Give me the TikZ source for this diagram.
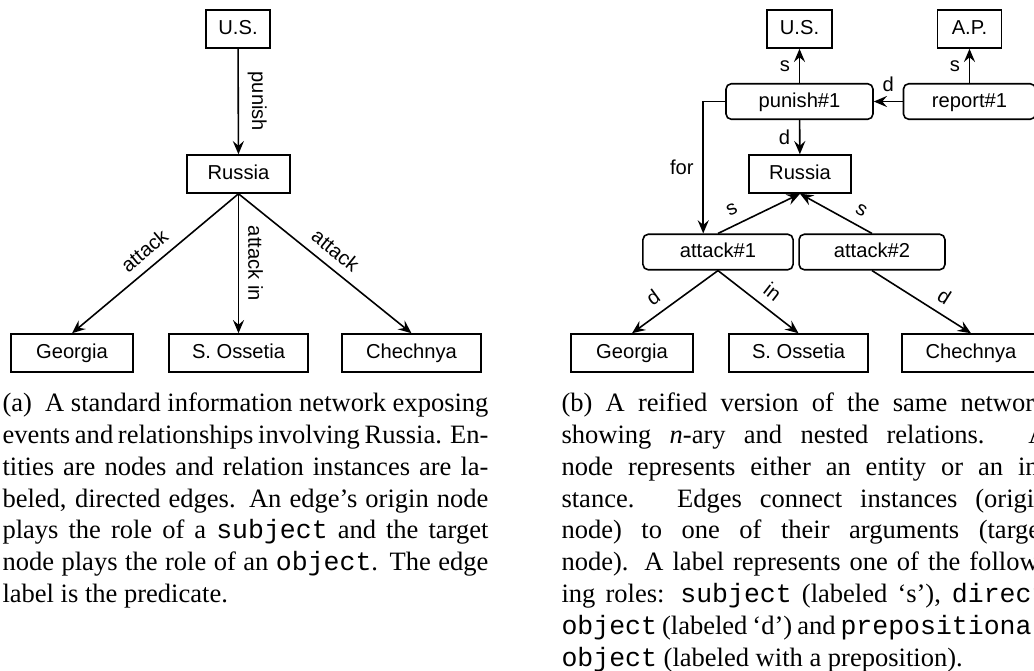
\documentclass[tikz,border=0pt]{standalone}
\usepackage{fontspec}
\setmainfont{Liberation Serif}
\setsansfont{Liberation Sans}
\setmonofont{Liberation Mono}
\usetikzlibrary{arrows.meta}

\begin{document}
\begin{tikzpicture}[x=0.377pt,y=-0.377pt,
        font=\sffamily\fontsize{7.6}{9}\selectfont,
        ent/.style={draw,line width=0.6pt,minimum height=14.3pt,inner sep=1pt,
            text height=5.6pt,text depth=1.4pt},
        inst/.style={ent,rounded corners=2pt,minimum height=13.4pt},
        arr/.style={-{Stealth[length=5pt,width=4.2pt,inset=1.8pt]},line width=0.6pt},
        capt/.style={anchor=north west,inner sep=0pt,text width=183.2pt,align=justify,
            font=\rmfamily\fontsize{10}{12}\selectfont}]
        \useasboundingbox (0,0) rectangle (1034,670);

        %red (a)
        \node[ent,minimum width=24.1pt] (aus) at (238,29) {U.S.};
        \node[ent,minimum width=38.8pt] (arus) at (238.5,174) {Russia};
        \node[ent,minimum width=46pt] (ageo) at (72,353) {Georgia};
        \node[ent,minimum width=52.4pt] (aoss) at (238.5,353) {S. Ossetia};
        \node[ent,minimum width=52.4pt] (ache) at (411.5,353) {Chechnya};

        % Aristas (a)
        \draw[arr] (aus) -- (arus) node[midway,sloped,above] {punish};
        \draw[arr] (arus.south) -- (ageo.north) node[midway,sloped,above] {attack};
        \draw[arr] (arus.south) -- (aoss.north) node[midway,sloped,above] {attack in};
        \draw[arr] (arus.south) -- (ache.north) node[midway,sloped,above] {attack};

        %red (b)
        \node[ent,minimum width=24.5pt] (bus) at (799.5,29) {U.S.};
        \node[ent,minimum width=24.1pt] (bap) at (969.5,29) {A.P.};
        \node[inst,minimum width=55.4pt] (punish) at (799.5,101.5) {punish\#1};
        \node[inst,minimum width=49.8pt] (report) at (969.5,101.5) {report\#1};
        \node[ent,minimum width=38.5pt] (brus) at (800,174) {Russia};
        \node[inst,minimum width=56.6pt] (att1) at (718,252) {attack\#1};
        \node[inst,minimum width=55pt] (att2) at (872,252) {attack\#2};
        \node[ent,minimum width=46pt] (bgeo) at (632,353) {Georgia};
        \node[ent,minimum width=52.4pt] (boss) at (798.5,353) {S. Ossetia};
        \node[ent,minimum width=52pt] (bche) at (971,353) {Chechnya};

        % Aristas (b)
        \draw[arr] (punish) -- (bus) node[midway,left] {s};
        \draw[arr] (report) -- (bap) node[midway,left] {s};
        \draw[arr] (report) -- (punish) node[midway,above] {d};
        \draw[arr] (punish) -- (brus) node[midway,left] {d};
        \draw[arr] (punish.west) -- ++(-22,0) coordinate (codo)
            -- (codo |- att1.north) node[midway,left] {for};
        \draw[arr] (att1.north) -- (brus.south) node[pos=0.25,sloped,above] {s};
        \draw[arr] (att2.north) -- (brus.south) node[pos=0.25,sloped,above] {s};
        \draw[arr] (att1.south) -- (bgeo.north) node[pos=0.64,sloped,above] {d};
        \draw[arr] (att1.south) -- (boss.north) node[pos=0.55,sloped,above] {in};
        \draw[arr] (att2.south) -- (bche.north) node[pos=0.64,sloped,above] {d};

        %leyendas
        \node[capt] (capa) at (2,388.7) {\strut(a)\enspace A standard information network exposing\linebreak
            events and relationships involving Russia. En-\linebreak
            tities are nodes and relation instances are la-\linebreak
            beled, directed edges. An edge's origin node\linebreak
            plays the role of a \texttt{subject} and the target\linebreak
            node plays the role of an \texttt{object}. The edge\linebreak
            label is the predicate.};
        \node[capt] (capb) at (561,388.7) {\strut(b) A reified version of the same network\linebreak
            showing \textit{n}-ary and nested relations. A\linebreak
            node represents either an entity or an in-\linebreak
            stance. Edges connect instances (origin\linebreak
            node) to one of their arguments (target\linebreak
            node). A label represents one of the follow-\linebreak
            ing roles: \texttt{subject} (labeled `s'), \texttt{direct}\linebreak
            \texttt{object} (labeled `d') and \texttt{prepositional}\linebreak
            \texttt{object} (labeled with a preposition).};
    \end{tikzpicture}
\end{document}
